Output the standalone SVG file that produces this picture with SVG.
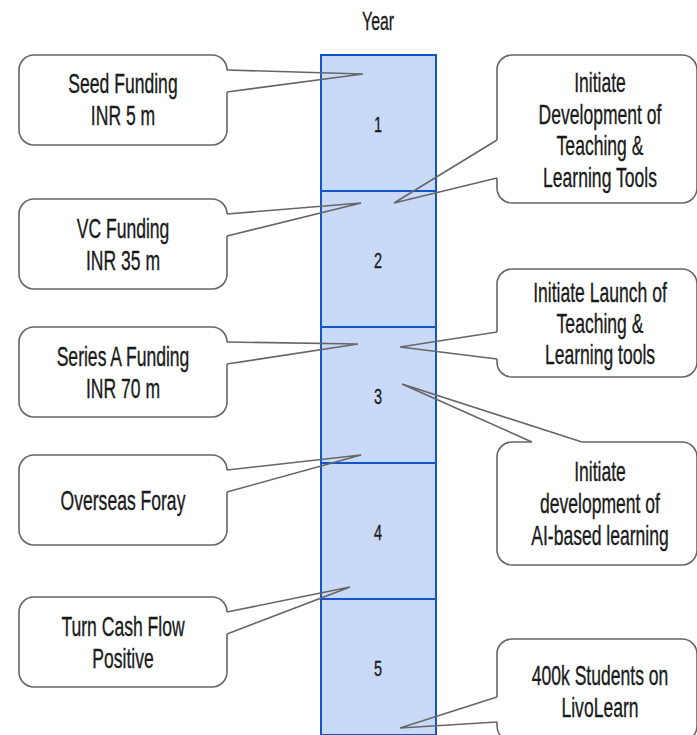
<svg xmlns="http://www.w3.org/2000/svg" width="697" height="735" viewBox="0 0 697 735">
<style>
.bg{fill:#ffffff}
.cell{fill:#c9daf8;stroke:#1155cc;stroke-width:2}
.box{fill:#ffffff;stroke:#666666;stroke-width:1.6;stroke-linejoin:round}
.ptr{fill:none;stroke:#666666;stroke-width:1.6;stroke-linejoin:miter}
.t,.n,.y{font-family:"Liberation Sans","DejaVu Sans",sans-serif;fill:#1a1a1a;stroke:#1a1a1a;stroke-width:0.35;text-anchor:middle}
.t{font-size:27px}
</style>
<rect class="bg" x="0" y="0" width="697" height="735"/>
<g id="year-label"><text class="y" font-size="25" transform="translate(378,30) scale(0.63,1)">Year</text></g>
<g id="timeline">
  <g id="year1"><rect class="cell" x="321" y="55" width="115" height="136"/><text class="n" font-size="22" transform="translate(378,132) scale(0.66,1)">1</text></g>
  <g id="year2"><rect class="cell" x="321" y="191" width="115" height="136"/><text class="n" font-size="22" transform="translate(378,268) scale(0.66,1)">2</text></g>
  <g id="year3"><rect class="cell" x="321" y="327" width="115" height="136"/><text class="n" font-size="22" transform="translate(378,404) scale(0.66,1)">3</text></g>
  <g id="year4"><rect class="cell" x="321" y="463" width="115" height="136"/><text class="n" font-size="22" transform="translate(378,540) scale(0.66,1)">4</text></g>
  <g id="year5"><rect class="cell" x="321" y="599" width="115" height="136"/><text class="n" font-size="22" transform="translate(378,676) scale(0.66,1)">5</text></g>
</g>
<g id="seed-funding">
  <path class="box" d="M227,92 V130 A15,15 0 0 1 212,145 H34 A15,15 0 0 1 19,130 V70 A15,15 0 0 1 34,55 H212 A15,15 0 0 1 227,70"/>
  <text class="t" transform="translate(123,93) scale(0.65,1)">Seed Funding</text>
  <text class="t" transform="translate(123,125) scale(0.65,1)">INR 5 m</text>
</g>
<g id="vc-funding">
  <path class="box" d="M227,236 V274 A15,15 0 0 1 212,289 H34 A15,15 0 0 1 19,274 V214 A15,15 0 0 1 34,199 H212 A15,15 0 0 1 227,214"/>
  <text class="t" transform="translate(123,238) scale(0.65,1)">VC Funding</text>
  <text class="t" transform="translate(123,270) scale(0.65,1)">INR 35 m</text>
</g>
<g id="series-a-funding">
  <path class="box" d="M227,364 V402 A15,15 0 0 1 212,417 H34 A15,15 0 0 1 19,402 V342 A15,15 0 0 1 34,327 H212 A15,15 0 0 1 227,342"/>
  <text class="t" transform="translate(123,366) scale(0.65,1)">Series A Funding</text>
  <text class="t" transform="translate(123,398) scale(0.65,1)">INR 70 m</text>
</g>
<g id="overseas-foray">
  <path class="box" d="M227,492 V530 A15,15 0 0 1 212,545 H34 A15,15 0 0 1 19,530 V470 A15,15 0 0 1 34,455 H212 A15,15 0 0 1 227,470"/>
  <text class="t" transform="translate(123,510) scale(0.65,1)">Overseas Foray</text>
</g>
<g id="cash-flow-positive">
  <path class="box" d="M227,634 V672 A15,15 0 0 1 212,687 H34 A15,15 0 0 1 19,672 V612 A15,15 0 0 1 34,597 H212 A15,15 0 0 1 227,612"/>
  <text class="t" transform="translate(123,636) scale(0.65,1)">Turn Cash Flow</text>
  <text class="t" transform="translate(123,668) scale(0.65,1)">Positive</text>
</g>
<g id="develop-tools">
  <path class="box" d="M497,178 V188 A15,15 0 0 0 512,203 H682 A15,15 0 0 0 697,188 V70 A15,15 0 0 0 682,55 H512 A15,15 0 0 0 497,70 V140"/>
  <text class="t" transform="translate(600,92) scale(0.65,1)">Initiate</text>
  <text class="t" transform="translate(600,124) scale(0.65,1)">Development of</text>
  <text class="t" transform="translate(600,155) scale(0.65,1)">Teaching &amp;</text>
  <text class="t" transform="translate(600,187) scale(0.65,1)">Learning Tools</text>
</g>
<g id="launch-tools">
  <path class="box" d="M497,359 V362 A15,15 0 0 0 512,377 H682 A15,15 0 0 0 697,362 V284 A15,15 0 0 0 682,269 H512 A15,15 0 0 0 497,284 V332"/>
  <text class="t" transform="translate(600,302) scale(0.65,1)">Initiate Launch of</text>
  <text class="t" transform="translate(600,333) scale(0.65,1)">Teaching &amp;</text>
  <text class="t" transform="translate(600,364) scale(0.65,1)">Learning tools</text>
</g>
<g id="ai-learning">
  <path class="box" d="M582,442 H682 A15,15 0 0 1 697,457 V550 A15,15 0 0 1 682,565 H512 A15,15 0 0 1 497,550 V457 A15,15 0 0 1 512,442 H532"/>
  <text class="t" transform="translate(600,481) scale(0.65,1)">Initiate</text>
  <text class="t" transform="translate(600,513) scale(0.65,1)">development of</text>
  <text class="t" transform="translate(600,545) scale(0.65,1)">AI-based learning</text>
</g>
<g id="students">
  <path class="box" d="M497,722 V726 A15,15 0 0 0 512,741 H682 A15,15 0 0 0 697,726 V654 A15,15 0 0 0 682,639 H512 A15,15 0 0 0 497,654 V697"/>
  <text class="t" transform="translate(600,685) scale(0.65,1)">400k Students on</text>
  <text class="t" transform="translate(600,717) scale(0.65,1)">LivoLearn</text>
</g>
<g id="connectors">
  <polyline class="ptr" points="227,70 363,74 227,92"/>
  <polyline class="ptr" points="227,214 361,203 227,236"/>
  <polyline class="ptr" points="227,342 358,344 227,364"/>
  <polyline class="ptr" points="227,470 361,455 227,492"/>
  <polyline class="ptr" points="227,612 350,587 227,634"/>
  <polyline class="ptr" points="497,140 394,203 497,178"/>
  <polyline class="ptr" points="497,332 400,347 497,359"/>
  <polyline class="ptr" points="532,442 402,384 582,442"/>
  <polyline class="ptr" points="497,697 400,728 497,722"/>
</g>
</svg>
